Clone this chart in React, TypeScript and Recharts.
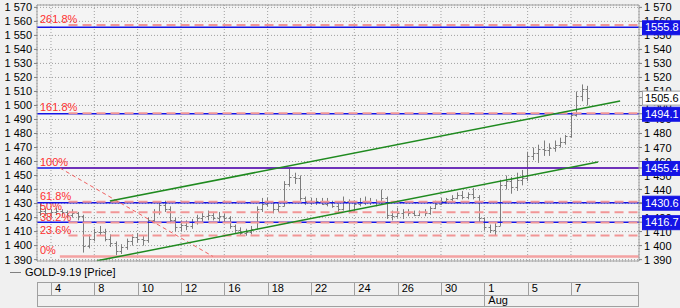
import React from "react";
import {
  ComposedChart,
  Bar,
  XAxis,
  YAxis,
  CartesianGrid,
  ReferenceLine,
  Legend,
} from "recharts";

// bar times in trading days (0 = start of Jul 4), 4 bars per day
const startT = -0.5;
const stepT = 0.25;

const highs = [
  1430, 1427, 1426, 1427, 1426, 1425, 1426, 1424, 1422, 1408,
  1412, 1414, 1412, 1408, 1403, 1401, 1405, 1408, 1409, 1407,
  1420, 1426, 1431, 1432, 1428, 1420, 1418, 1418, 1419, 1422,
  1424, 1425, 1424, 1424, 1423, 1421, 1415, 1413, 1412, 1414,
  1428, 1434, 1434, 1431, 1430, 1446, 1455, 1452, 1450, 1435,
  1434, 1434, 1434, 1434, 1432, 1430, 1435, 1433, 1432, 1434,
  1435, 1434, 1433, 1440, 1435, 1425, 1427, 1426, 1426, 1425,
  1425, 1426, 1428, 1432, 1434, 1434, 1436, 1438, 1439, 1438,
  1441, 1436, 1420, 1415, 1416, 1447, 1450, 1449, 1452, 1454,
  1467, 1470, 1472, 1475, 1473, 1475, 1477, 1479, 1495, 1510,
  1515, 1514,
];
const lows = [
  1421, 1421, 1420, 1422, 1421, 1420, 1420, 1418, 1395, 1398,
  1403, 1407, 1403, 1399, 1393, 1394, 1397, 1400, 1402, 1400,
  1402, 1416, 1422, 1424, 1416, 1410, 1410, 1411, 1412, 1415,
  1417, 1418, 1418, 1417, 1417, 1412, 1409, 1407, 1407, 1408,
  1412, 1424, 1428, 1423, 1424, 1428, 1442, 1444, 1432, 1429,
  1429, 1429, 1429, 1428, 1427, 1423, 1425, 1423, 1424, 1428,
  1429, 1429, 1428, 1429, 1419, 1418, 1420, 1419, 1421, 1421,
  1421, 1421, 1422, 1426, 1429, 1430, 1431, 1433, 1433, 1433,
  1433, 1417, 1411, 1409, 1407, 1414, 1440, 1437, 1439, 1443,
  1446, 1461, 1459, 1464, 1464, 1467, 1470, 1472, 1477, 1492,
  1503, 1500,
];
const closes = [
  1425, 1423, 1424, 1425, 1424, 1422, 1423, 1421, 1400, 1405,
  1410, 1410, 1405, 1402, 1396, 1399, 1403, 1406, 1405, 1404,
  1418, 1424, 1429, 1426, 1418, 1413, 1415, 1414, 1417, 1420,
  1421, 1422, 1420, 1421, 1420, 1414, 1411, 1409, 1410, 1412,
  1426, 1430, 1431, 1426, 1428, 1444, 1449, 1448, 1434, 1432,
  1431, 1432, 1430, 1431, 1428, 1426, 1432, 1425, 1430, 1431,
  1432, 1431, 1431, 1434, 1422, 1421, 1423, 1424, 1423, 1422,
  1424, 1423, 1427, 1430, 1432, 1433, 1434, 1436, 1435, 1437,
  1435, 1420, 1413, 1411, 1414, 1443, 1446, 1442, 1447, 1448,
  1464, 1466, 1469, 1468, 1470, 1472, 1474, 1478, 1493, 1507,
  1512, 1505.6,
];
const firstOpen = 1424;

const dayTicks = [0, 2, 4, 6, 8, 10, 12, 14, 16, 18, 20, 22, 24];
const dayLabels = ["4", "8", "10", "12", "16", "18", "22", "24", "26", "30", "1", "5", "7"];
const monthLabels: Record<number, string> = { 20: "Aug" };

const yTicks = [
  1390, 1400, 1410, 1420, 1430, 1440, 1450, 1460, 1470, 1480,
  1490, 1500, 1510, 1520, 1530, 1540, 1550, 1560, 1570,
];
const xDomain: [number, number] = [-0.645, 27.14];
const yDomain: [number, number] = [1389, 1571.7];

const blueLevels = [1555.8, 1494.1, 1455.4, 1430.6, 1416.7];
const lastPrice = 1505.6;

const fibPcts = [261.8, 161.8, 100, 61.8, 50, 38.2, 23.6, 0];
const fibLow = 1392.3;
const fibHigh = 1455.4;
const fibStartT = 0.41;
const fibEndT = 7.47;

const upperChannel = [
  { x: 2.72, y: 1431.8 },
  { x: 26.27, y: 1503.2 },
];
const lowerChannel = [
  { x: 2.12, y: 1389.1 },
  { x: 25.25, y: 1459.7 },
];

const data = highs.map((h, i) => ({
  t: startT + i * stepT,
  range: [lows[i], h],
  high: h,
  low: lows[i],
  open: i === 0 ? firstOpen : closes[i - 1],
  close: closes[i],
}));

// right axis: plain ticks first, boxed price labels last so they sit on top
const rightTicks = [...yTicks, lastPrice, ...blueLevels];

const fibValue = (p: number) => fibLow + ((fibHigh - fibLow) * p) / 100;

const FONT = "'Liberation Sans', Arial, sans-serif";
const BLUE = "#1414e6";

function OhlcShape(props: any) {
  const { x, y, width, height, payload } = props;
  if (x == null || payload == null) return null;
  const top = Math.min(y, y + height);
  const bottom = Math.max(y, y + height);
  const span = payload.high - payload.low || 1;
  const toY = (v: number) => {
    const c = Math.max(payload.low, Math.min(payload.high, v));
    return top + ((payload.high - c) / span) * (bottom - top);
  };
  const cx = Math.round(x + width / 2) + 0.5;
  const oy = Math.round(toY(payload.open)) + 0.5;
  const cy = Math.round(toY(payload.close)) + 0.5;
  return (
    <g stroke="#7c7c7c" strokeWidth={1}>
      <line x1={cx} y1={top} x2={cx} y2={bottom} />
      <line x1={cx - 2} y1={oy} x2={cx} y2={oy} />
      <line x1={cx} y1={cy} x2={cx + 2} y2={cy} />
    </g>
  );
}

function DateTick(props: any) {
  const { x, y, index, payload } = props;
  const label = dayLabels[index] ?? "";
  const month = monthLabels[payload.value];
  return (
    <g>
      {index === 0 && (
        <g stroke="#a0a0a0" fill="none">
          <rect x={37.5} y={y + 21.5} width={601} height={24} />
          <line x1={37.5} y1={y + 34.5} x2={638.5} y2={y + 34.5} />
        </g>
      )}
      <line
        x1={Math.round(x) + 0.5}
        y1={y + 21}
        x2={Math.round(x) + 0.5}
        y2={month ? y + 45 : y + 34}
        stroke="#a0a0a0"
      />
      <text x={x + 4} y={y + 31} fontSize={11} fill="#000" fontFamily={FONT}>
        {label}
      </text>
      {month && (
        <text x={x + 4} y={y + 43} fontSize={11} fill="#000" fontFamily={FONT}>
          {month}
        </text>
      )}
    </g>
  );
}

const fmtPrice = (v: number) => `${Math.floor(v / 1000)} ${String(v % 1000).padStart(3, "0")}`;

function RightTick(props: any) {
  const { x, y, payload } = props;
  const v = payload.value;
  if (v === lastPrice || blueLevels.includes(v)) {
    const isLast = v === lastPrice;
    return (
      <g>
        <rect
          x={x - 1.5}
          y={y - 6.5}
          width={40}
          height={14}
          fill={isLast ? "#ffffff" : BLUE}
          stroke={isLast ? "#a0a0a0" : BLUE}
        />
        <text x={x + 1} y={y + 4} fontSize={11} fill={isLast ? "#000" : "#fff"} fontFamily={FONT}>
          {v.toFixed(1)}
        </text>
      </g>
    );
  }
  return (
    <text x={x} y={y + 4} fontSize={11} fill="#000" fontFamily={FONT}>
      {fmtPrice(v)}
    </text>
  );
}

function FibLabel(props: any) {
  const { viewBox, text } = props;
  if (!viewBox) return null;
  return (
    <text x={viewBox.x + 3} y={viewBox.y - 2} fontSize={11} fill="#ff3030" fontFamily={FONT}>
      {text}
    </text>
  );
}

function LegendContent() {
  return (
    <div style={{ fontFamily: FONT, fontSize: 11, color: "#000", display: "flex", alignItems: "center" }}>
      <span style={{ display: "inline-block", width: 11, height: 1, background: "#808080", marginRight: 4 }} />
      GOLD-9.19 [Price]
    </div>
  );
}

export default function App() {
  return (
    <div
      style={{
        position: "absolute",
        left: 0,
        top: 0,
        width: 680,
        height: 308,
        background: "#f0f0f0",
        fontFamily: FONT,
      }}
    >
      <ComposedChart
        width={680}
        height={308}
        data={data}
        margin={{ top: 5, right: 0, bottom: 0, left: 0 }}
      >
        <CartesianGrid stroke="#a0a0a0" strokeDasharray="1 2" fill="#f4f4f4" />
        <XAxis
          dataKey="t"
          type="number"
          domain={xDomain}
          allowDataOverflow
          ticks={dayTicks}
          interval={0}
          height={47}
          tickSize={0}
          tickMargin={0}
          tickLine={false}
          axisLine={{ stroke: "#a0a0a0" }}
          tick={<DateTick />}
        />
        <YAxis
          domain={yDomain}
          allowDataOverflow
          ticks={yTicks}
          interval={0}
          width={37}
          tickSize={3}
          tickMargin={2}
          tickFormatter={fmtPrice}
          axisLine={{ stroke: "#a0a0a0" }}
          tickLine={{ stroke: "#808080" }}
          tick={{ fill: "#000", fontSize: 11, fontFamily: FONT }}
        />
        <YAxis
          yAxisId="right"
          orientation="right"
          domain={yDomain}
          allowDataOverflow
          ticks={rightTicks}
          interval={0}
          width={41}
          tickSize={3}
          tickMargin={2}
          axisLine={{ stroke: "#a0a0a0" }}
          tickLine={{ stroke: "#808080" }}
          tick={<RightTick />}
        />
        <Legend
          layout="horizontal"
          verticalAlign="middle"
          align="center"
          wrapperStyle={{ left: 10, top: 266, width: 200, height: 14 }}
          content={<LegendContent />}
        />
        <ReferenceLine y={yDomain[1]} stroke="#a0a0a0" />

        {/* fibonacci label anchors */}
        {fibPcts.map((p) => (
          <ReferenceLine
            key={`fl-${p}`}
            y={fibValue(p)}
            stroke="none"
            label={(lp: any) => <FibLabel {...lp} text={`${p}%`} />}
          />
        ))}

        {blueLevels.map((v) => (
          <ReferenceLine key={`b-${v}`} y={v} stroke={BLUE} strokeWidth={1.5} />
        ))}

        {/* fibonacci levels */}
        {fibPcts.map((p) =>
          p === 100 ? (
            <ReferenceLine
              key={`f-${p}`}
              segment={[
                { x: fibStartT, y: fibValue(p) },
                { x: xDomain[1], y: fibValue(p) },
              ]}
              stroke="#7a2aa8"
              strokeWidth={1.5}
            />
          ) : p === 0 ? (
            <ReferenceLine
              key={`f-${p}`}
              segment={[
                { x: fibStartT, y: fibValue(p) },
                { x: xDomain[1], y: fibValue(p) },
              ]}
              stroke="#f4a2a2"
              strokeWidth={2.5}
            />
          ) : (
            <ReferenceLine
              key={`f-${p}`}
              segment={[
                { x: fibStartT + 0.4, y: fibValue(p) },
                { x: xDomain[1], y: fibValue(p) },
              ]}
              stroke="#f29696"
              strokeWidth={2}
              strokeDasharray="9 5"
            />
          )
        )}
        <ReferenceLine
          segment={[
            { x: fibStartT, y: fibHigh },
            { x: fibEndT, y: fibLow },
          ]}
          stroke="#f06060"
          strokeWidth={1}
          strokeDasharray="4 3"
        />

        <Bar
          dataKey="range"
          barSize={5}
          shape={<OhlcShape />}
          isAnimationActive={false}
          legendType="none"
        />

        <ReferenceLine segment={upperChannel} stroke="#1f8a1f" strokeWidth={1.5} ifOverflow="hidden" />
        <ReferenceLine segment={lowerChannel} stroke="#1f8a1f" strokeWidth={1.5} ifOverflow="hidden" />
      </ComposedChart>
    </div>
  );
}
